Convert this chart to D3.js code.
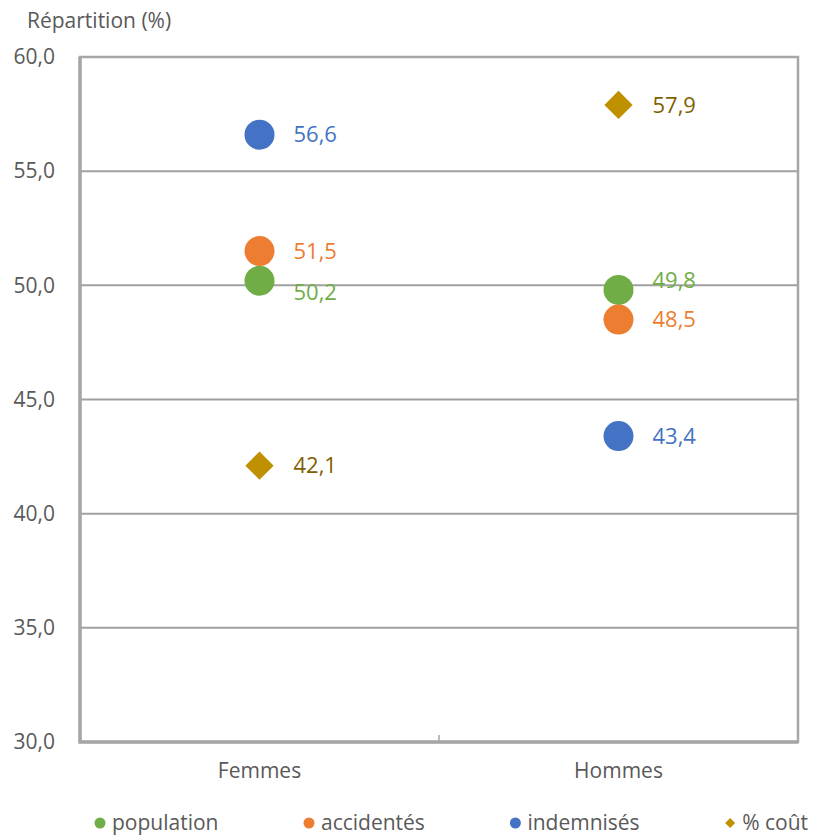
<!DOCTYPE html>
<html>
<head>
<meta charset="utf-8">
<script src="https://cdn.jsdelivr.net/npm/d3@7"></script>
<style>
  html, body { margin: 0; padding: 0; background: #fff; }
  svg { display: block; font-family: "Open Sans", sans-serif; }
</style>
</head>
<body>
<svg id="chart" width="817" height="836"></svg>
<script>
// Répartition par sexe : population, accidentés, indemnisés, coût
const categories = ["Femmes", "Hommes"];
const seriesNames = ["population", "accidentés", "indemnisés", "% coût"];
const population = [50.2, 49.8];
const accidentes = [51.5, 48.5];
const indemnises = [56.6, 43.4];
const cout = [42.1, 57.9];
const yTicks = [30, 35, 40, 45, 50, 55, 60];

const colors = {
  "population": "#70AD47",
  "accidentés": "#ED7D31",
  "indemnisés": "#4472C4",
  "% coût": "#BF9000"
};
const labelColors = {
  "population": "#70AD47",
  "accidentés": "#ED7D31",
  "indemnisés": "#4472C4",
  "% coût": "#7F6000"
};

const series = [
  { name: seriesNames[0], values: population, shape: "circle" },
  { name: seriesNames[1], values: accidentes, shape: "circle" },
  { name: seriesNames[2], values: indemnises, shape: "circle" },
  { name: seriesNames[3], values: cout, shape: "diamond" }
];

const svg = d3.select("#chart");
const m = { left: 80, right: 798, top: 57, bottom: 742 };
const fmt = v => d3.format(".1f")(v).replace(".", ",");
const textColor = "#595959";
const frameColor = "#a6a6a6";

const x = d3.scaleBand().domain(categories).range([m.left, m.right]);
const y = d3.scaleLinear().domain([30, 60]).range([m.bottom, m.top]);

// horizontal gridlines
svg.append("g")
  .selectAll("line")
  .data(yTicks.filter(t => t > 30 && t < 60))
  .join("line")
  .attr("x1", m.left).attr("x2", m.right)
  .attr("y1", d => y(d)).attr("y2", d => y(d))
  .attr("stroke", "#a0a0a0").attr("stroke-width", 2);

// plot frame: thin top/right, heavier axes on left/bottom
svg.append("rect")
  .attr("x", m.left).attr("y", m.top)
  .attr("width", m.right - m.left).attr("height", m.bottom - m.top)
  .attr("fill", "none").attr("stroke", frameColor).attr("stroke-width", 2.5);
svg.append("path")
  .attr("d", `M${m.left},${m.top}V${m.bottom}H${m.right}`)
  .attr("fill", "none").attr("stroke", frameColor).attr("stroke-width", 3.5);

// y axis labels
const yAxis = d3.axisLeft(y).tickValues(yTicks).tickSize(0).tickPadding(25).tickFormat(fmt);
const gy = svg.append("g").attr("transform", `translate(${m.left},0)`).call(yAxis);
gy.select(".domain").remove();
gy.selectAll("text").attr("font-size", 21).attr("fill", textColor)
  .attr("font-family", "'Open Sans', sans-serif");

// x axis labels and middle tick
const xAxis = d3.axisBottom(x).tickSize(0).tickPadding(21);
const gx = svg.append("g").attr("transform", `translate(0,${m.bottom})`).call(xAxis);
gx.select(".domain").remove();
gx.selectAll("text").attr("font-size", 21).attr("fill", textColor)
  .attr("font-family", "'Open Sans', sans-serif");
svg.append("line")
  .attr("x1", x("Hommes")).attr("x2", x("Hommes"))
  .attr("y1", m.bottom - 7).attr("y2", m.bottom)
  .attr("stroke", frameColor).attr("stroke-width", 1.5);

// y title
svg.append("text").attr("x", 27).attr("y", 28)
  .attr("font-size", 21).attr("fill", textColor).text("Répartition (%)");

// label vertical offsets where points crowd each other
function labelDy(name, i) {
  if (name === "population") return i === 0 ? 12 : -10;
  return 0;
}

const marks = svg.append("g");
series.forEach(s => {
  s.values.forEach((v, i) => {
    const cx = x(categories[i]) + x.bandwidth() / 2;
    const cy = y(v);
    if (s.shape === "circle") {
      marks.append("circle").attr("cx", cx).attr("cy", cy).attr("r", 15)
        .attr("fill", colors[s.name]);
    } else {
      marks.append("path")
        .attr("d", d3.symbol().type(d3.symbolSquare).size(400)())
        .attr("transform", `translate(${cx},${cy}) rotate(45)`)
        .attr("fill", colors[s.name]);
    }
    marks.append("text")
      .attr("x", cx + 34).attr("y", cy + labelDy(s.name, i))
      .attr("dy", "0.35em")
      .attr("font-size", 22)
      .attr("fill", labelColors[s.name])
      .text(fmt(v));
  });
});

// legend: entries spread with equal gaps between first marker and last text end
const legendY = 823;
const legendStart = 100, legendEnd = 808;
const lg = svg.append("g");
const entries = series.map(s => {
  const g = lg.append("g");
  if (s.shape === "circle") {
    g.append("circle").attr("cx", 0).attr("cy", 0).attr("r", 5.5)
      .attr("fill", colors[s.name]);
  } else {
    g.append("path")
      .attr("d", d3.symbol().type(d3.symbolSquare).size(50)())
      .attr("transform", "rotate(45)")
      .attr("fill", colors[s.name]);
  }
  const t = g.append("text").attr("x", 12).attr("y", 0).attr("dy", "0.35em")
    .attr("font-size", 21).attr("fill", textColor).text(s.name);
  return { g, w: 12 + t.node().getComputedTextLength() };
});
const totalW = d3.sum(entries, e => e.w);
const gap = (legendEnd - legendStart - totalW) / (entries.length - 1);
let lx = legendStart;
entries.forEach(e => {
  e.g.attr("transform", `translate(${lx},${legendY})`);
  lx += e.w + gap;
});
</script>
</body>
</html>
